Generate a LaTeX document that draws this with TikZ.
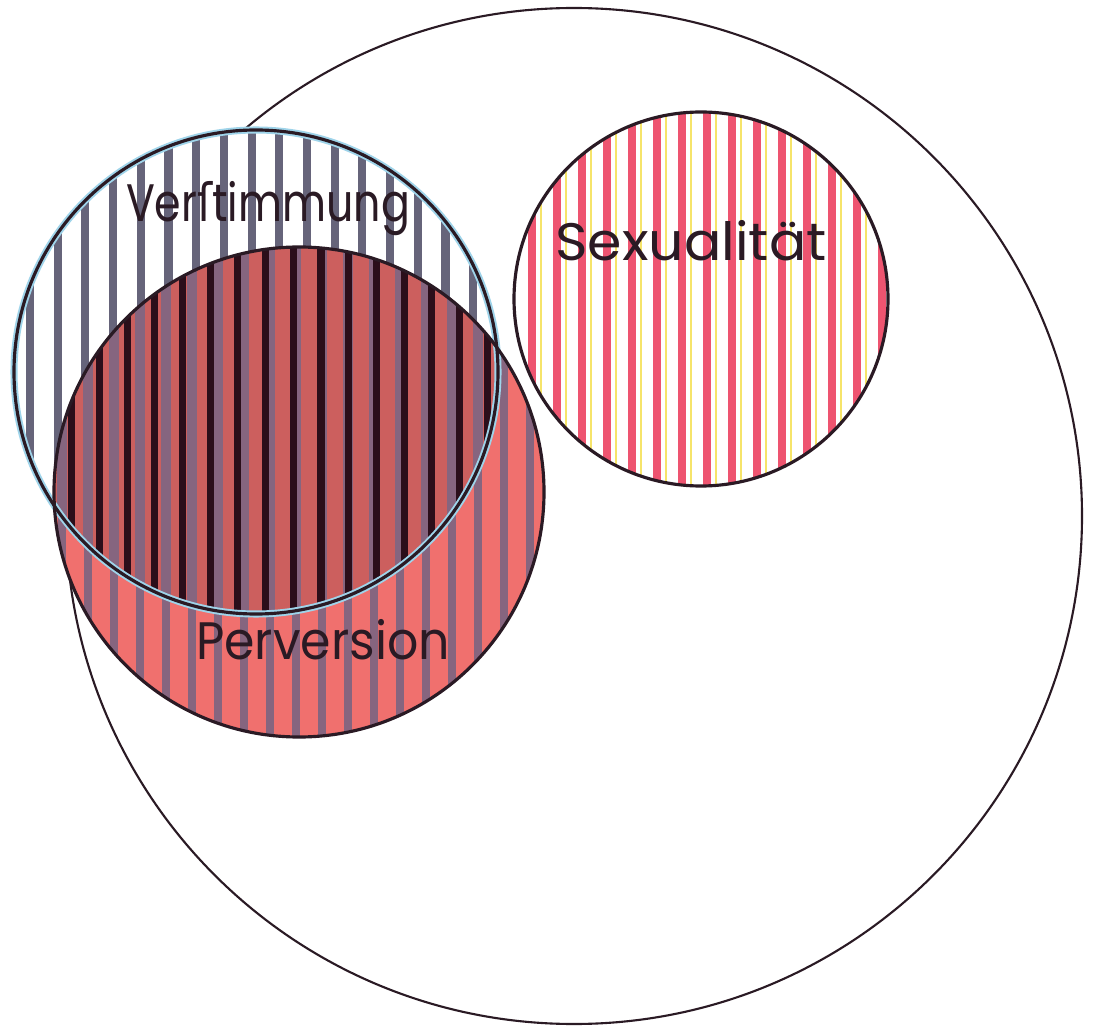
\documentclass[tikz,border=0pt]{standalone}
\usepackage{fontspec}
\setmainfont{Poppins}
\newfontfamily\longsfont{DejaVu Sans}
\usepackage{xcolor}
\usetikzlibrary{positioning}
\definecolor{ink}{HTML}{2A1A24}
\definecolor{vstripe}{HTML}{66647A}
\definecolor{halo}{HTML}{9FD4EA}
\definecolor{pfill}{HTML}{F0706E}
\definecolor{pstripe}{HTML}{86657F}
\definecolor{odark}{HTML}{2B0E1A}
\definecolor{sred}{HTML}{EE5470}
\definecolor{syel}{HTML}{F6E46A}
\tikzset{
  rim/.style={ink,line width=0.9pt},
  label/.style={font=\fontsize{15}{15}\selectfont,text=ink,inner sep=0pt}
}
\begin{document}
\begin{tikzpicture}
\useasboundingbox (0,0) rectangle (10.97,-10.31);
\fill[white] (0,0) rectangle (10.97,-10.31);
% centres of the four circles
\coordinate (whole) at (5.74,-5.16);
\coordinate (verst) at (2.56,-3.72);
\coordinate (perv)  at (2.99,-4.92);
\coordinate (sex)   at (7.01,-2.99);
% outer circle
\draw[ink,line width=0.6pt] (whole) circle (5.08cm);
% Verstimmung: grey stripes on white
\fill[white] (verst) circle (2.42cm);
\begin{scope}
  \clip (verst) circle (2.42cm);
  \foreach \x in {0,...,17} \draw[vstripe,line width=2.3pt] (0.30+0.277*\x,0) -- (0.30+0.277*\x,-7);
\end{scope}
% Perversion: grey stripes on salmon
\fill[pfill] (perv) circle (2.45cm);
\begin{scope}
  \clip (perv) circle (2.45cm);
  \foreach \x in {0,...,20} \draw[pstripe,line width=2pt] (0.62+0.26*\x,-2) -- (0.62+0.26*\x,-8);
\end{scope}
% overlap: dark stripes added
\begin{scope}
  \clip (verst) circle (2.42cm);
  \clip (perv) circle (2.45cm);
  \fill[pfill!85!black] (0,0) rectangle (6,-7);
  \foreach \x in {0,...,20} \draw[pstripe,line width=3pt] (0.62+0.26*\x,-2) -- (0.62+0.26*\x,-8);
  \foreach \x in {0,...,17} \draw[odark,line width=2pt] (0.44+0.277*\x,-2) -- (0.44+0.277*\x,-8);
\end{scope}
% Sexualitaet: red and yellow stripes on white
\fill[white] (sex) circle (1.87cm);
\begin{scope}
  \clip (sex) circle (1.87cm);
  \foreach \x in {0,...,15} {
    \draw[sred,line width=2.2pt] (5.32+0.25*\x,0) -- (5.32+0.25*\x,-5);
    \draw[syel,line width=0.7pt] (5.41+0.25*\x,0) -- (5.41+0.25*\x,-5);
  }
\end{scope}
% outlines
\draw[halo,line width=2pt] (verst) circle (2.42cm);
\draw[rim] (verst) circle (2.42cm);
\draw[rim] (perv) circle (2.45cm);
\draw[rim] (sex) circle (1.87cm);
% labels
\node[label,xscale=0.81] (lverst) at (2.68,-2.09) {Ver{\longsfont ſ}timmung};
\node[label,xscale=0.93] (lperv) at (3.23,-6.40) {Perversion};
\node[label,xscale=1.05] (lsex) at (6.91,-2.41) {Sexualität};
\end{tikzpicture}
\end{document}
